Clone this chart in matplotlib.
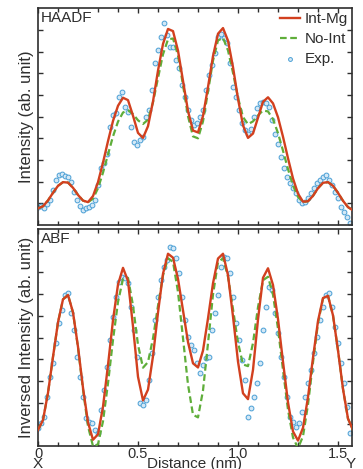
import numpy as np
from matplotlib import pyplot as plt
from matplotlib import rcParams
from matplotlib.ticker import MultipleLocator

rcParams['font.family'] = ['Liberation Sans', 'DejaVu Sans']
rcParams['font.size'] = 10

# sample positions (nm)
dist_fit = np.arange(64) * 0.025
dist_exp = np.arange(105) * 0.015

# HAADF profiles (normalised)
haadf_int_mg = [
    0.077, 0.087, 0.114, 0.149, 0.181, 0.198, 0.196, 0.172, 0.139, 0.113,
    0.106, 0.134, 0.198, 0.288, 0.387, 0.480, 0.550, 0.587, 0.576, 0.504,
    0.425, 0.402, 0.456, 0.570, 0.712, 0.835, 0.904, 0.894, 0.804, 0.665,
    0.526, 0.436, 0.427, 0.503, 0.636, 0.779, 0.882, 0.908, 0.850, 0.728,
    0.582, 0.460, 0.402, 0.422, 0.495, 0.568, 0.589, 0.561, 0.497, 0.407,
    0.308, 0.215, 0.145, 0.108, 0.110, 0.135, 0.170, 0.195, 0.198, 0.181,
    0.149, 0.112, 0.083, 0.068,
]
haadf_no_int = [
    0.077, 0.087, 0.114, 0.149, 0.181, 0.198, 0.196, 0.172, 0.139, 0.113,
    0.105, 0.122, 0.170, 0.242, 0.326, 0.409, 0.477, 0.519, 0.529, 0.512,
    0.483, 0.466, 0.486, 0.566, 0.678, 0.787, 0.856, 0.860, 0.782, 0.645,
    0.502, 0.409, 0.400, 0.478, 0.615, 0.758, 0.851, 0.863, 0.805, 0.702,
    0.587, 0.498, 0.465, 0.478, 0.506, 0.528, 0.524, 0.488, 0.424, 0.343,
    0.258, 0.183, 0.130, 0.106, 0.110, 0.135, 0.170, 0.195, 0.198, 0.181,
    0.149, 0.112, 0.083, 0.068,
]
haadf_exp = [
    0.084, 0.088, 0.081, 0.097, 0.115, 0.161, 0.207, 0.230, 0.235, 0.226,
    0.220, 0.200, 0.154, 0.115, 0.088, 0.069, 0.077, 0.084, 0.092, 0.115,
    0.184, 0.261, 0.284, 0.330, 0.453, 0.507, 0.515, 0.591, 0.614, 0.545,
    0.522, 0.453, 0.384, 0.369, 0.392, 0.407, 0.499, 0.530, 0.622, 0.745,
    0.806, 0.868, 0.932, 0.876, 0.822, 0.822, 0.760, 0.722, 0.645, 0.591,
    0.530, 0.484, 0.461, 0.469, 0.499, 0.530, 0.622, 0.691, 0.737, 0.791,
    0.868, 0.883, 0.860, 0.837, 0.745, 0.637, 0.591, 0.530, 0.469, 0.438,
    0.422, 0.445, 0.499, 0.538, 0.561, 0.568, 0.561, 0.545, 0.484, 0.422,
    0.376, 0.315, 0.261, 0.223, 0.192, 0.169, 0.146, 0.118, 0.100, 0.108,
    0.123, 0.146, 0.169, 0.192, 0.207, 0.223, 0.230, 0.207, 0.184, 0.154,
    0.123, 0.084, 0.061, 0.038, 0.011,
]

# ABF profiles (inversed, normalised)
abf_int_mg = [
    0.074, 0.120, 0.245, 0.411, 0.570, 0.676, 0.696, 0.616, 0.457, 0.268,
    0.109, 0.029, 0.054, 0.181, 0.373, 0.580, 0.744, 0.821, 0.761, 0.551,
    0.319, 0.210, 0.260, 0.414, 0.615, 0.794, 0.886, 0.868, 0.770, 0.625,
    0.479, 0.381, 0.362, 0.440, 0.588, 0.750, 0.864, 0.886, 0.787, 0.597,
    0.389, 0.243, 0.216, 0.351, 0.583, 0.775, 0.819, 0.742, 0.585, 0.388,
    0.201, 0.067, 0.025, 0.084, 0.225, 0.407, 0.576, 0.682, 0.692, 0.602,
    0.441, 0.263, 0.126, 0.074,
]
abf_no_int = [
    0.074, 0.120, 0.245, 0.411, 0.570, 0.676, 0.696, 0.615, 0.454, 0.260,
    0.091, -0.001, 0.008, 0.114, 0.289, 0.489, 0.664, 0.770, 0.775, 0.647,
    0.466, 0.361, 0.387, 0.496, 0.646, 0.786, 0.865, 0.849, 0.710, 0.497,
    0.283, 0.144, 0.132, 0.256, 0.473, 0.698, 0.847, 0.865, 0.780, 0.631,
    0.477, 0.376, 0.368, 0.475, 0.640, 0.764, 0.780, 0.697, 0.541, 0.350,
    0.167, 0.039, -0.010, 0.045, 0.191, 0.385, 0.566, 0.680, 0.692, 0.602,
    0.441, 0.263, 0.126, 0.074,
]
abf_exp = [
    0.081, 0.104, 0.135, 0.227, 0.320, 0.381, 0.473, 0.565, 0.627, 0.696,
    0.704, 0.611, 0.535, 0.412, 0.320, 0.227, 0.127, 0.112, 0.104, 0.074,
    0.058, 0.166, 0.258, 0.366, 0.488, 0.596, 0.688, 0.757, 0.780, 0.773,
    0.750, 0.642, 0.535, 0.412, 0.197, 0.189, 0.212, 0.304, 0.427, 0.581,
    0.688, 0.765, 0.826, 0.857, 0.919, 0.911, 0.865, 0.796, 0.688, 0.581,
    0.504, 0.465, 0.442, 0.381, 0.335, 0.373, 0.404, 0.412, 0.535, 0.611,
    0.696, 0.826, 0.873, 0.865, 0.796, 0.688, 0.565, 0.488, 0.396, 0.304,
    0.135, 0.174, 0.227, 0.289, 0.381, 0.535, 0.642, 0.734, 0.719, 0.611,
    0.519, 0.412, 0.320, 0.227, 0.135, 0.112, 0.089, 0.104, 0.158, 0.227,
    0.289, 0.350, 0.427, 0.504, 0.581, 0.642, 0.696, 0.704, 0.642, 0.550,
    0.473, 0.381, 0.289, 0.181, 0.058,
]

red = '#d2401f'
green = '#5fae3a'
txt = '#2e2e2e'

fig = plt.figure(figsize=(3.63, 4.69), dpi=100)
ax_top = fig.add_axes([0.1047, 0.520, 0.865, 0.4627])
ax_bot = fig.add_axes([0.1047, 0.049, 0.865, 0.4627])

for ax, fit, noint, exp in [
    (ax_top, haadf_int_mg, haadf_no_int, haadf_exp),
    (ax_bot, abf_int_mg, abf_no_int, abf_exp),
]:
    ax.scatter(dist_exp, exp, s=12, facecolor='#d4e8f6', edgecolor='#4a9fd5',
               linewidth=0.7, label='Exp.', zorder=2)
    ax.plot(dist_fit, noint, '--', color=green, lw=1.6, label='No-Int',
            zorder=3, dashes=(3, 1.6))
    ax.plot(dist_fit, fit, '-', color=red, lw=1.7, label='Int-Mg', zorder=4,
            solid_joinstyle='round')
    ax.set(xlim=(0, 1.57), ylim=(0, 1))
    ax.xaxis.set_major_locator(MultipleLocator(0.5))
    ax.xaxis.set_minor_locator(MultipleLocator(0.1))
    ax.set_yticks(np.arange(1, 10) * 0.1)
    ax.tick_params(which='both', direction='in', top=True, right=True,
                   labelleft=False, color=txt, width=1.0)
    ax.tick_params(which='major', length=3.5)
    ax.tick_params(which='minor', length=3)
    for s in ax.spines.values():
        s.set_color(txt)
        s.set_linewidth(1.2)

ax_top.tick_params(labelbottom=False)
ax_bot.set_xticks([0, 0.5, 1.0, 1.5], ['0', '0.5', '1.0', '1.5'])
ax_bot.tick_params(axis='x', labelsize=10.5, labelcolor=txt, pad=1)

ax_top.text(0.01, 0.985, 'HAADF', transform=ax_top.transAxes, va='top',
            ha='left', fontsize=11, color=txt)
ax_bot.text(0.01, 0.985, 'ABF', transform=ax_bot.transAxes, va='top',
            ha='left', fontsize=11, color=txt)

handles, labels = ax_top.get_legend_handles_labels()
order = [2, 1, 0]
ax_top.legend([handles[i] for i in order], [labels[i] for i in order],
              loc='upper right', frameon=False, fontsize=11,
              handlelength=1.3, handletextpad=0.3, labelspacing=0.4,
              borderaxespad=0.1, borderpad=0.15, labelcolor=txt,
              markerscale=0.8)

ax_top.set_ylabel('Intensity (ab. unit)', fontsize=12, color=txt, labelpad=3)
ax_bot.set_ylabel('Inversed Intensity (ab. unit)', fontsize=12, color=txt,
                  labelpad=3)

fig.text(0.537, -0.005, 'Distance (nm)', ha='center', va='bottom',
         fontsize=11, color=txt)
fig.text(0.105, -0.005, 'X', ha='center', va='bottom', fontsize=11, color=txt)
fig.text(0.965, -0.005, 'Y', ha='center', va='bottom', fontsize=11, color=txt)

fig.savefig('out.png', dpi=100)
